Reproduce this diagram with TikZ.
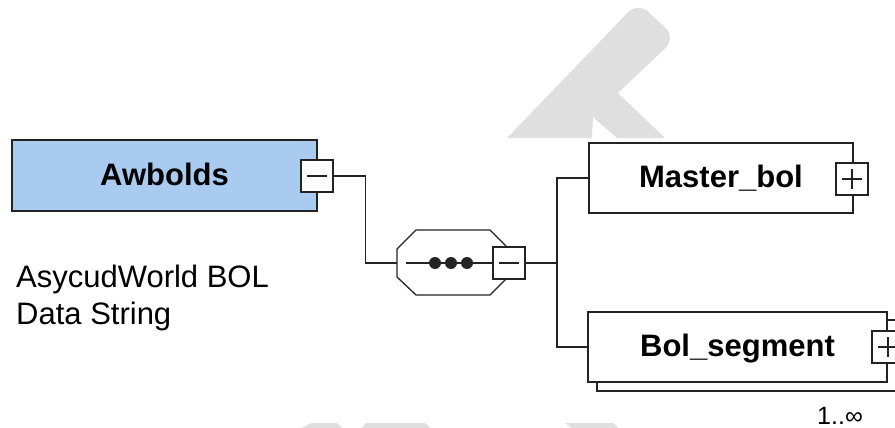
\documentclass[tikz,border=0pt]{standalone}
\usepackage{fontspec}
\setmainfont{Liberation Sans}
\definecolor{awblue}{RGB}{168,203,239}
\definecolor{wm}{RGB}{223,223,223}
\definecolor{ln}{RGB}{35,35,35}
\tikzset{
  lw/.style={line width=1.3pt},
  elem/.style={draw=ln, lw, fill=white, rectangle, inner sep=0pt,
    text height=23pt, text depth=4pt,
    font=\fontsize{31}{37}\selectfont\bfseries},
  pmbox/.style={draw=ln, lw, fill=white, rectangle, minimum size=32pt, inner sep=0pt},
  minusbox/.style={pmbox, path picture={
    \draw[ln,lw] ([xshift=-10pt]path picture bounding box.center) -- ([xshift=10pt]path picture bounding box.center);}},
  plusbox/.style={pmbox, path picture={
    \draw[ln,lw] ([xshift=-10pt]path picture bounding box.center) -- ([xshift=10pt]path picture bounding box.center);
    \draw[ln,lw] ([yshift=-10pt]path picture bounding box.center) -- ([yshift=10pt]path picture bounding box.center);}},
  conn/.style={draw=ln, lw},
  plain/.style={inner sep=0pt, font=\fontsize{31}{37}\selectfont},
}
\begin{document}
\begin{tikzpicture}[x=1pt,y=-1pt]
\useasboundingbox (0,0) rectangle (895,428);
\clip (0,0) rectangle (895,428);
% watermark
\fill[wm] (507,138) [rounded corners=14pt] -- (638,2) -- (676,38) [sharp corners] -- (618,93) -- (665,138) -- (617,138) -- (593,117) -- (592,138) -- cycle;
\fill[wm] (301,428) -- (311,423) -- (337,423) -- (342,428) -- cycle;
\fill[wm] (361,428) -- (366,423) -- (425,423) -- (431,428) -- cycle;
\fill[wm] (565,423) -- (614,423) -- (618,428) -- (572,428) -- cycle;

% Awbolds
\node[elem, fill=awblue, minimum width=305pt, minimum height=71pt] (aw) at (164.5,175.5) {Awbolds};
\node[minusbox] (awm) at (317,176) {};
\node[plain, anchor=base west] (d1) at (16,287) {AsycudWorld BOL};
\node[plain, anchor=base west] (d2) at (16,324) {Data String};

% sequence compositor
\draw[ln, lw, fill=white] (397,249) -- (416,230) -- (490,230) -- (506,246) -- (506,279) -- (490,295) -- (416,295) -- (397,277) -- cycle;
\coordinate (seqin) at (397,263);
\coordinate (seqstart) at (406,263);
\node[minusbox] (seqm) at (509,263) {};
\draw[conn] (seqstart) -- (seqm.west);
\fill[ln] (435,263) circle (6pt) (451,263) circle (6pt) (467,263) circle (6pt);

% Master_bol
\node[elem, minimum width=264pt, minimum height=70pt] (mb) at (721,178) {Master\_bol};
\node[plusbox] (mbp) at (852,179) {};

% Bol_segment (with shadow)
\draw[ln, lw, fill=white] (597,320) rectangle (898,391);
\node[elem, minimum width=299pt, minimum height=70pt] (bs) at (737.5,347) {Bol\_segment};
\node[plusbox] (bsp) at (888,347) {};
\node[inner sep=0pt, anchor=base west, font=\fontsize{25}{30}\selectfont] (card) at (817,424) {1..∞};

% connectors
\coordinate (jr) at (557,263);
\draw[conn] (awm.east) -- ++(32,0) |- (seqin);
\draw[conn] (seqm.east) -- (jr);
\draw[conn] (mb.west) -| (jr) |- (bs.west);
\end{tikzpicture}
\end{document}
